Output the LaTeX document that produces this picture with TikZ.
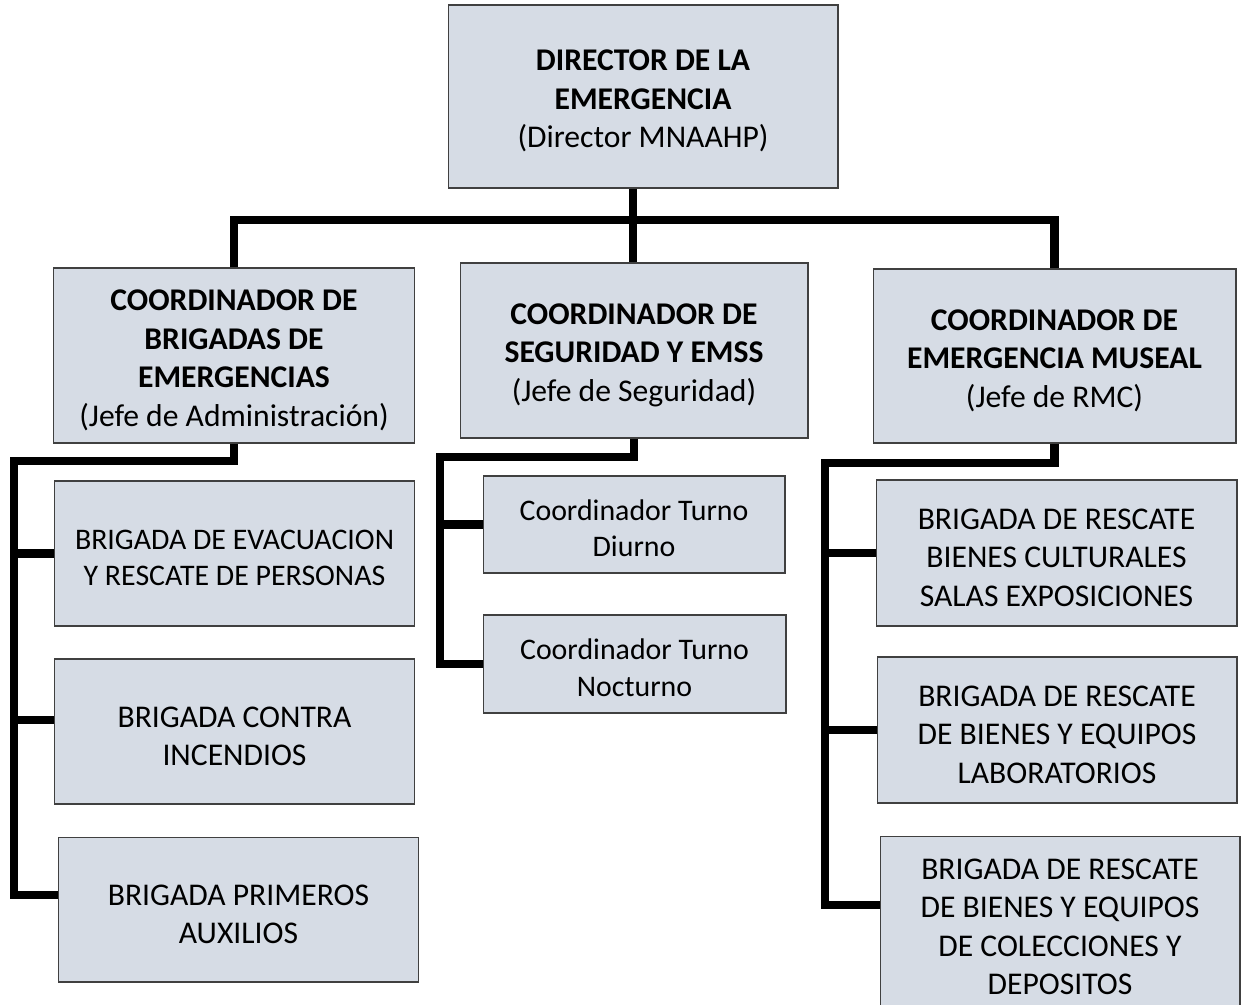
\documentclass[tikz,border=0pt]{standalone}
\usepackage{fontspec}
\setmainfont{Carlito}
\usepackage{tikz}
\usetikzlibrary{positioning}
\definecolor{boxfill}{HTML}{D6DCE5}
\definecolor{boxline}{HTML}{404040}
\newcommand{\ts}{\rule{0pt}{0.952em}}

\begin{document}
\begin{tikzpicture}[x=0.02cm, y=-0.02cm,
					every node/.style={rectangle, draw=boxline, line width=0.6pt, fill=boxfill,
						align=center, inner sep=0pt, font=\fontsize{18}{21.9}\selectfont},
					smalltext/.style={font=\fontsize{17}{20.7}\selectfont},
					link/.style={line width=5pt, draw=black}]
					\useasboundingbox (0,0) rectangle (1243,1004);
					% top
					\node[minimum width=7.8cm, minimum height=3.66cm] (dir) at (643,96.5)
						{\ts\textbf{DIRECTOR DE LA}\\\textbf{EMERGENCIA}\\(Director MNAAHP)};
					% coordinators
					\node[minimum width=7.24cm, minimum height=3.5cm] (c1) at (234,355.5)
						{\ts\textbf{COORDINADOR DE}\\\textbf{BRIGADAS DE}\\\textbf{EMERGENCIAS}\\(Jefe de Administración)};
					\node[minimum width=6.96cm, minimum height=3.5cm] (c2) at (634,350.5)
						{\ts\textbf{COORDINADOR DE}\\\textbf{SEGURIDAD Y EMSS}\\(Jefe de Seguridad)};
					\node[minimum width=7.26cm, minimum height=3.48cm] (c3) at (1054.5,356)
						{\ts\textbf{COORDINADOR DE}\\\textbf{EMERGENCIA MUSEAL}\\(Jefe de RMC)};
					% brigades
					\node[smalltext, minimum width=7.22cm, minimum height=2.9cm] (l1) at (234.5,553.5)
						{\ts BRIGADA DE EVACUACION\\Y RESCATE DE PERSONAS};
					\node[minimum width=7.22cm, minimum height=2.9cm] (l2) at (234.5,731.5)
						{\ts BRIGADA CONTRA\\INCENDIOS};
					\node[minimum width=7.22cm, minimum height=2.9cm] (l3) at (238.5,909.5)
						{\ts BRIGADA PRIMEROS\\AUXILIOS};
					\node[smalltext, minimum width=6.04cm, minimum height=1.94cm] (m1) at (634,524.5)
						{\ts Coordinador Turno\\Diurno};
					\node[smalltext, minimum width=6.06cm, minimum height=1.96cm] (m2) at (634.5,664)
						{\ts Coordinador Turno\\Nocturno};
					\node[minimum width=7.22cm, minimum height=2.92cm] (r1) at (1056.5,553)
						{\ts BRIGADA DE RESCATE\\BIENES CULTURALES\\SALAS EXPOSICIONES};
					\node[minimum width=7.2cm, minimum height=2.92cm] (r2) at (1057,730)
						{\ts BRIGADA DE RESCATE\\DE BIENES Y EQUIPOS\\LABORATORIOS};
					\node[minimum width=7.2cm, minimum height=3.44cm] (r3) at (1060,922)
						{\ts BRIGADA DE RESCATE\\DE BIENES Y EQUIPOS\\DE COLECCIONES Y\\DEPOSITOS};
					% connectors
					\coordinate (hub) at (633,220);
					\coordinate (lbus) at (14,461);
					\coordinate (mbus) at (440,457);
					\coordinate (rbus) at (825,463);
					\draw[link] (dir.south -| hub) -- (c2.north -| hub);
					\draw[link] (c1.north) |- (hub) -| (c3.north);
					\draw[link] (c1.south) |- (lbus) |- ([yshift=0.29cm]l3.west);
					\draw[link] (l1.west -| lbus) -- (l1.west);
					\draw[link] ([yshift=0.23cm]l2.west -| lbus) -- ([yshift=0.23cm]l2.west);
					\draw[link] (c2.south) |- (mbus) |- (m2.west);
					\draw[link] (m1.west -| mbus) -- (m1.west);
					\draw[link] (c3.south) |- (rbus) |- ([yshift=0.34cm]r3.west);
					\draw[link] (r1.west -| rbus) -- (r1.west);
					\draw[link] (r2.west -| rbus) -- (r2.west);
				\end{tikzpicture}
\end{document}
